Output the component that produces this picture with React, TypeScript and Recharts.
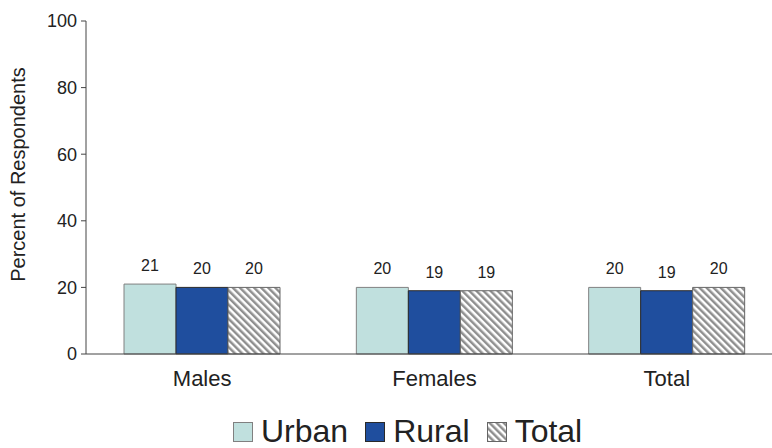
import React from "react";
import { BarChart, Bar, XAxis, YAxis, Legend, LabelList } from "recharts";

const categories = ["Males", "Females", "Total"];
const urbanValues = [21, 20, 20];
const ruralValues = [20, 19, 19];
const totalValues = [20, 19, 20];
const yTicks = [0, 20, 40, 60, 80, 100];
const edgeTicks = [0, 1, 2, 3];

const data = categories.map((c, i) => ({
  category: c,
  urban: urbanValues[i],
  rural: ruralValues[i],
  total: totalValues[i],
}));

const FONT = "'Liberation Sans', Arial, Helvetica, sans-serif";
const URBAN = "#c0e0de";
const RURAL = "#1f4e9e";

const legendItems = [
  { name: "Urban", fill: URBAN, stroke: "#808080" },
  { name: "Rural", fill: RURAL, stroke: "#2a2a2a" },
  { name: "Total", fill: "url(#hatchLegend)", stroke: "#666" },
];

const LegendContent = () => (
  <div
    style={{
      height: 54,
      display: "flex",
      justifyContent: "flex-start",
      alignItems: "baseline",
      paddingLeft: 233,
      paddingTop: 21,
      boxSizing: "border-box",
      fontFamily: FONT,
      fontSize: 32,
      lineHeight: "32px",
      color: "#222",
    }}
  >
    {legendItems.map((it, i) => (
      <span
        key={it.name}
        style={{ display: "inline-flex", alignItems: "baseline", marginRight: i < 2 ? 17 : 0 }}
      >
        <svg width={20} height={20} style={{ marginRight: 8, verticalAlign: "baseline" }}>
          <defs>
            <pattern id="hatchLegend" width={5} height={5} patternUnits="userSpaceOnUse" patternTransform="rotate(-45)">
              <rect width={5} height={5} fill="#ffffff" />
              <rect width={2.5} height={5} fill="#8f8f8f" />
            </pattern>
          </defs>
          <rect x={0.5} y={0.5} width={19} height={19} fill={it.fill} stroke={it.stroke} strokeWidth={1} />
        </svg>
        <span>{it.name}</span>
      </span>
    ))}
  </div>
);

const YLabel = (props: any) => {
  const vb = props.viewBox || {};
  const cy = (vb.y || 0) + (vb.height || 0) / 2 - 13;
  return (
    <text
      x={25}
      y={cy}
      transform={`rotate(-90, 25, ${cy})`}
      textAnchor="middle"
      fontFamily={FONT}
      fontSize={20}
      fill="#222"
    >
      Percent of Respondents
    </text>
  );
};

export default function App() {
  return (
    <div style={{ position: "absolute", left: 0, top: 0, width: 772, height: 448, overflow: "hidden", background: "#fff" }}>
      <BarChart
        width={783}
        height={448}
        data={data}
        margin={{ top: 21, right: 0, left: 0, bottom: 0 }}
        barCategoryGap={38}
        barGap={0}
      >
        <defs>
          <pattern id="hatch" width={5} height={5} patternUnits="userSpaceOnUse" patternTransform="rotate(-45)">
            <rect width={5} height={5} fill="#ffffff" />
            <rect width={2.5} height={5} fill="#8f8f8f" />
          </pattern>
        </defs>
        <XAxis
          xAxisId="edges"
          type="number"
          domain={[0, 3]}
          ticks={edgeTicks}
          interval={0}
          tick={false}
          tickSize={6}
          axisLine={false}
          tickLine={{ stroke: "#444" }}
          height={0}
        />
        <XAxis
          dataKey="category"
          tickLine={false}
          tickSize={6}
          tickMargin={10}
          axisLine={{ stroke: "#444" }}
          height={40}
          tick={{ fontSize: 22, fill: "#222", fontFamily: FONT }}
        />
        <YAxis
          width={86}
          domain={[0, 100]}
          ticks={yTicks}
          interval={0}
          tickSize={5}
          tickMargin={4}
          axisLine={{ stroke: "#444" }}
          tickLine={{ stroke: "#444" }}
          tick={{ fontSize: 18, fill: "#222", fontFamily: FONT }}
          label={<YLabel />}
        />
        <Legend verticalAlign="bottom" height={54} content={<LegendContent />} wrapperStyle={{ left: 0, width: 783 }} />
        <Bar dataKey="urban" fill={URBAN} stroke="#808080" strokeWidth={1} isAnimationActive={false}>
          <LabelList dataKey="urban" position="top" offset={13} fontSize={16} fill="#222" fontFamily={FONT} />
        </Bar>
        <Bar dataKey="rural" fill={RURAL} stroke="#2a2a2a" strokeWidth={1} isAnimationActive={false}>
          <LabelList dataKey="rural" position="top" offset={13} fontSize={16} fill="#222" fontFamily={FONT} />
        </Bar>
        <Bar dataKey="total" fill="url(#hatch)" stroke="#666" strokeWidth={1} isAnimationActive={false}>
          <LabelList dataKey="total" position="top" offset={13} fontSize={16} fill="#222" fontFamily={FONT} />
        </Bar>
      </BarChart>
    </div>
  );
}
